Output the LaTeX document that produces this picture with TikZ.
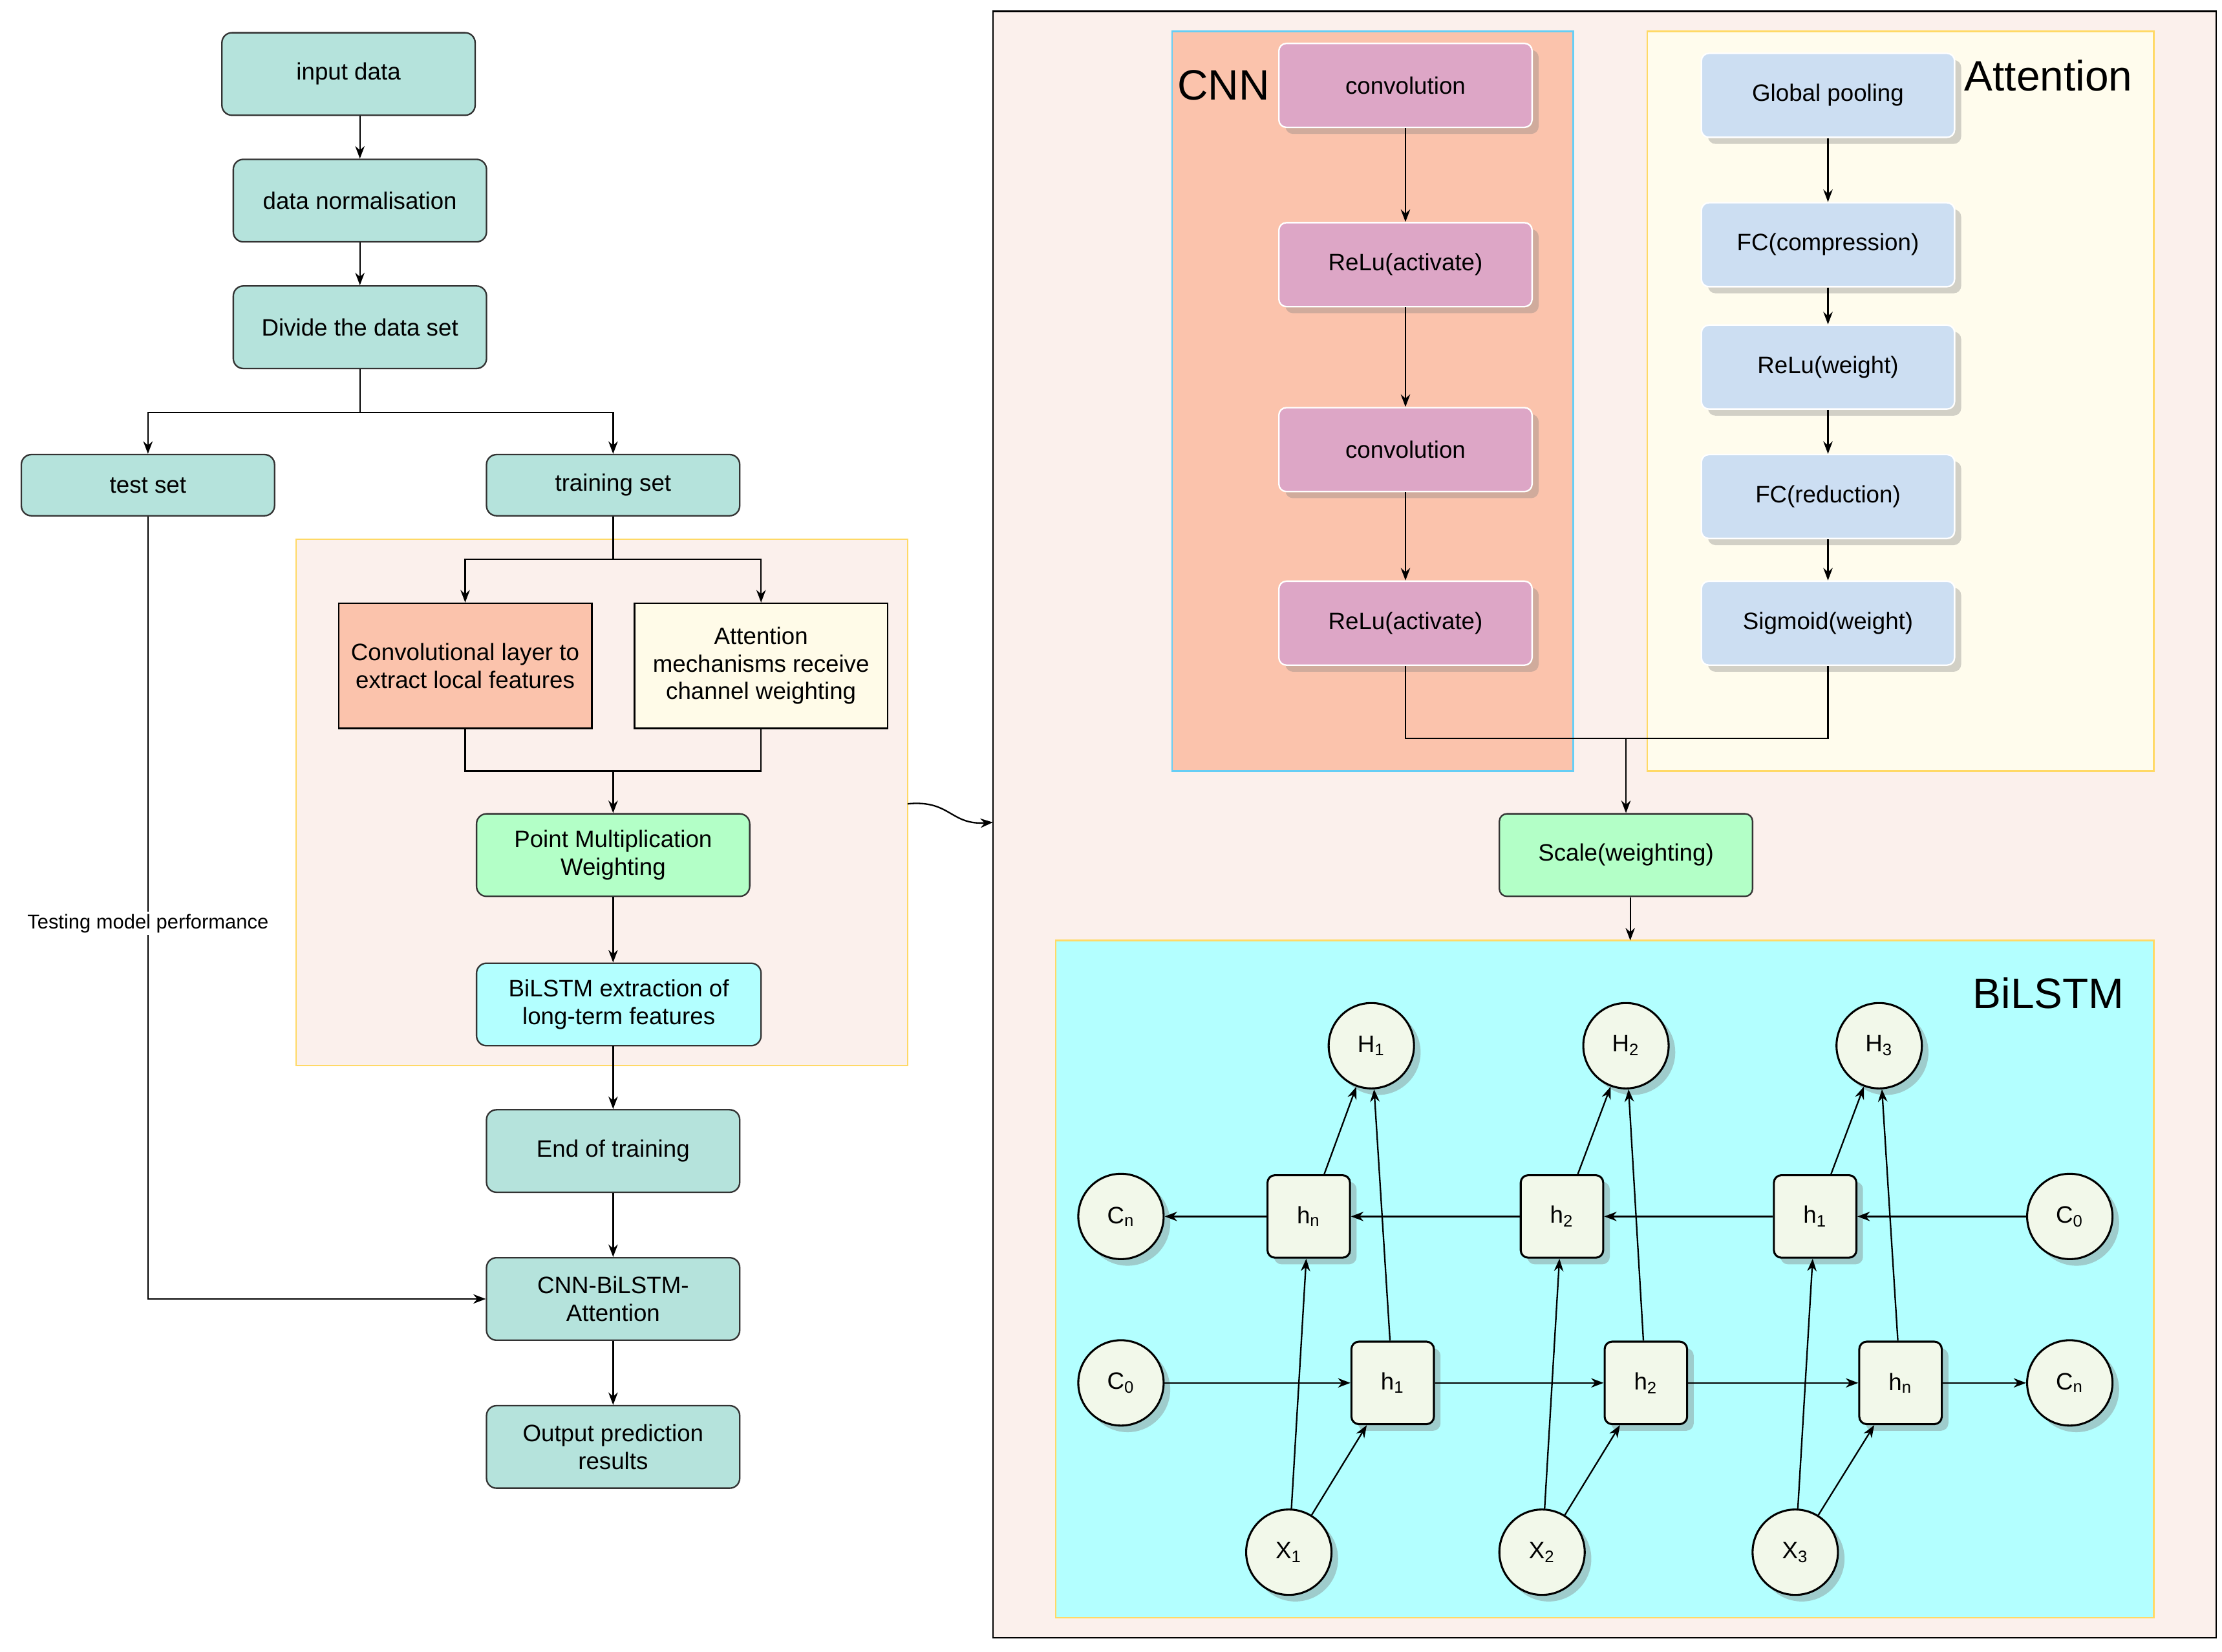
\documentclass[tikz,border=0pt]{standalone}
\usepackage{fontspec}
\setmainfont{Liberation Sans}
\usetikzlibrary{arrows.meta,shadows}
\definecolor{teal1}{HTML}{B5E3DC}
\definecolor{panel}{HTML}{FBF0EC}
\definecolor{salmon}{HTML}{FBC3AC}
\definecolor{cream}{HTML}{FFFBE8}
\definecolor{mint}{HTML}{B3FFC7}
\definecolor{aqua}{HTML}{B3FFFF}
\definecolor{pinkc}{HTML}{DDA6C6}
\definecolor{bluec}{HTML}{CCDEF2}
\definecolor{goldb}{HTML}{FFD966}
\definecolor{cellc}{HTML}{F2F8EA}
\tikzset{
  every path/.style={semithick},
  txt/.style={font=\fontsize{9.5}{11}\selectfont, align=center},
  proc/.style={txt, draw=black!80, rounded corners=4pt, fill=teal1, minimum width=178*0.02cm, minimum height=58*0.02cm},
  cnnbox/.style={txt, draw=white, rounded corners=3pt, fill=pinkc, minimum width=178*0.02cm, minimum height=59*0.02cm, drop shadow={opacity=0.35}},
  attbox/.style={cnnbox, fill=bluec},
  cell/.style={txt, draw, thick, rounded corners=3pt, fill=cellc, minimum size=58*0.02cm, drop shadow={opacity=0.4}},
  state/.style={txt, draw, thick, circle, fill=cellc, minimum size=60*0.02cm, inner sep=0pt, drop shadow={opacity=0.4}},
  arr/.style={-{Stealth[length=5pt]}},
  big/.style={font=\fontsize{17}{20}\selectfont}
}
\begin{document}
\begin{tikzpicture}[x=0.02cm,y=-0.02cm]
\useasboundingbox (0,0) rectangle (1562,1161);
% left flow
\fill[panel] (208,379) rectangle (638,749);
\draw[goldb] (208,379) rectangle (638,749);
\node[proc] (input) at (245,52) {input data};
\node[proc] (norm) at (253,141) {data normalisation};
\node[proc] (divide) at (253,230) {Divide the data set};
\node[proc, minimum height=43*0.02cm] (test) at (104,341) {test set};
\node[proc, minimum height=43*0.02cm] (train) at (431,341) {training set};
\node[txt, draw, fill=salmon, minimum width=178*0.02cm, minimum height=88*0.02cm] (conv) at (327,468) {Convolutional layer to\\extract local features};
\node[txt, draw, fill=cream, minimum width=178*0.02cm, minimum height=88*0.02cm] (attm) at (535,468) {Attention\\mechanisms receive\\channel weighting};
\node[proc, fill=mint, minimum width=192*0.02cm] (point) at (431,601) {Point Multiplication\\Weighting};
\node[proc, fill=aqua, minimum width=200*0.02cm] (bil) at (435,706) {BiLSTM extraction of\\long-term features};
\node[proc] (end) at (431,809) {End of training};
\node[proc] (model) at (431,913) {CNN-BiLSTM-\\Attention};
\node[proc] (out) at (431,1017) {Output prediction\\results};
\coordinate (split) at (253,290);
\coordinate (split2) at (431,393);
\coordinate (join) at (431,542);
\draw[arr] (input.south -| norm) -- (norm);
\draw[arr] (norm) -- (divide);
\draw (divide) -- (split);
\draw[arr] (split) -| (test);
\draw[arr] (split) -| (train);
\draw (train) -- (split2);
\draw[arr] (split2) -| (conv);
\draw[arr] (split2) -| (attm);
\draw (conv.south) |- (join) -| (attm.south);
\draw[arr] (join) -- (point);
\draw[arr] (point) -- (point |- bil.north);
\draw[arr] (bil.south -| end) -- (end);
\draw[arr] (end) -- (model);
\draw[arr] (model) -- (out);
\draw[arr] (test) |- node[pos=0.26, fill=white, inner sep=1pt, font=\fontsize{8}{10}\selectfont] {Testing model performance} (model);
% right panel
\draw[fill=panel] (698,8) rectangle (1558,1151);
\draw[arr] (638,565) .. controls (668,562) and (668,580) .. (698,578);
\draw[fill=salmon, draw=cyan!60] (824,22) rectangle (1106,542);
\draw[fill=cream!80, draw=goldb] (1158,22) rectangle (1514,542);
\node[big] at (860,60) {CNN};
\node[big] at (1440,53) {Attention};
\node[cnnbox] (c1) at (988,60) {convolution};
\node[cnnbox] (r1) at (988,186) {ReLu(activate)};
\node[cnnbox] (c2) at (988,316) {convolution};
\node[cnnbox] (r2) at (988,438) {ReLu(activate)};
\node[attbox] (gp) at (1285,67) {Global pooling};
\node[attbox] (fc1) at (1285,172) {FC(compression)};
\node[attbox] (rw) at (1285,258) {ReLu(weight)};
\node[attbox] (fc2) at (1285,349) {FC(reduction)};
\node[attbox] (sig) at (1285,438) {Sigmoid(weight)};
\foreach \a/\b in {c1/r1, r1/c2, c2/r2, gp/fc1, fc1/rw, rw/fc2, fc2/sig}
  \draw[arr] (\a) -- (\b);
\node[proc, fill=mint, rounded corners=3pt] (scale) at (1143,601) {Scale(weighting)};
\coordinate (mid) at (1143,519);
\draw (r2) |- (mid) -| (sig);
\draw[arr] (mid) -- (scale);
\draw[fill=aqua, draw=goldb] (742,661) rectangle (1514,1137);
\draw[arr] (1146,631) -- (1146,661);
\node[big] at (1440,698) {BiLSTM};
% BiLSTM cells
\node[state] (H1) at (964,735) {H\textsubscript{1}};
\node[state] (H2) at (1143,735) {H\textsubscript{2}};
\node[state] (H3) at (1321,735) {H\textsubscript{3}};
\node[state] (Cnt) at (788,855) {C\textsubscript{n}};
\node[state] (C0t) at (1455,855) {C\textsubscript{0}};
\node[state] (C0b) at (788,972) {C\textsubscript{0}};
\node[state] (Cnb) at (1455,972) {C\textsubscript{n}};
\node[state] (X1) at (906,1091) {X\textsubscript{1}};
\node[state] (X2) at (1084,1091) {X\textsubscript{2}};
\node[state] (X3) at (1262,1091) {X\textsubscript{3}};
\node[cell] (bh3) at (920,855) {h\textsubscript{n}};
\node[cell] (bh2) at (1098,855) {h\textsubscript{2}};
\node[cell] (bh1) at (1276,855) {h\textsubscript{1}};
\node[cell] (fh1) at (979,972) {h\textsubscript{1}};
\node[cell] (fh2) at (1157,972) {h\textsubscript{2}};
\node[cell] (fh3) at (1336,972) {h\textsubscript{n}};
\foreach \a/\b in {C0t/bh1, bh1/bh2, bh2/bh3, bh3/Cnt, C0b/fh1, fh1/fh2, fh2/fh3, fh3/Cnb,
  X1/bh3, X1/fh1, X2/bh2, X2/fh2, X3/bh1, X3/fh3,
  bh3/H1, fh1/H1, bh2/H2, fh2/H2, bh1/H3, fh3/H3}
  \draw[arr] (\a) -- (\b);
\end{tikzpicture}
\end{document}
